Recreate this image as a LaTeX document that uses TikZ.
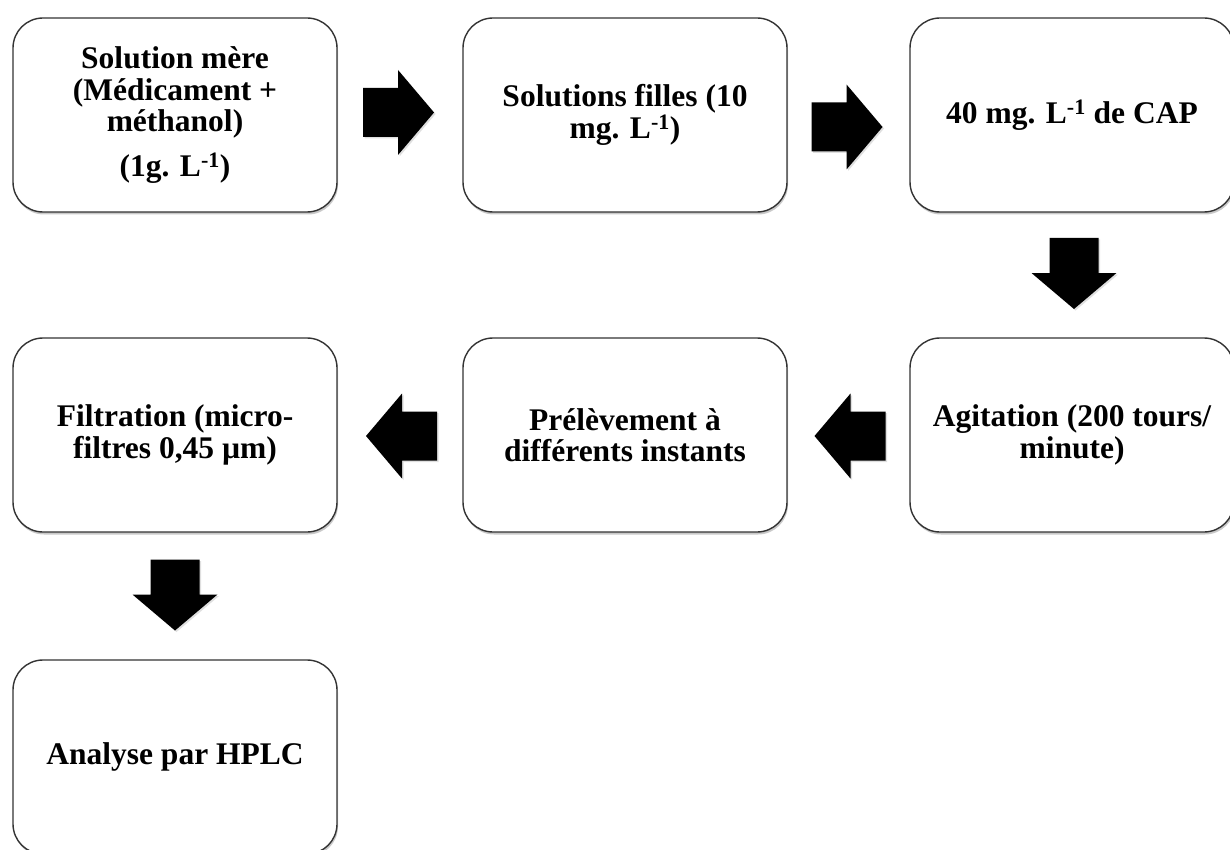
\documentclass[tikz,border=0pt]{standalone}
\usepackage{fontspec}
\setmainfont{Liberation Serif}
\usetikzlibrary{calc,shadows}
\begin{document}
\begin{tikzpicture}[x=1pt,y=-1pt,
  stepbox/.style={draw=black!80, line width=1.4pt, fill=white, rounded corners=30pt,
    minimum width=324pt, minimum height=194pt, align=center, inner sep=0pt,
    font=\fontsize{31.5}{31.5}\selectfont\bfseries,
    drop shadow={shadow xshift=1pt, shadow yshift=-2.5pt, opacity=0.35, fill=black!60}},
  blockarrow/.pic={\fill[black, drop shadow={shadow xshift=1.5pt, shadow yshift=-1.5pt, opacity=0.25}]
    (-35,-24.5) -- (0,-24.5) -- (0,-42.5) -- (36,0) -- (0,42.5) -- (0,24.5) -- (-35,24.5) -- cycle;}
]
\fill[white] (0,0) rectangle (1230,850);
\useasboundingbox (0,0) rectangle (1230,850);

\node[stepbox] (b1) at (175,115) {Solution mère\\(Médicament +\\méthanol)\\[13pt](1g. L\textsuperscript{-1})};
\node[stepbox] (b2) at (625,115) {Solutions filles (10\\mg. L\textsuperscript{-1})};
\node[stepbox] (b3) at (1072,115) {40 mg. L\textsuperscript{-1} de CAP};
\node[stepbox] (b6) at (1072,435) {Agitation (200 tours/\\minute)};
\node[stepbox] (b5) at (625,435) {Prélèvement à\\différents instants};
\node[stepbox] (b4) at (175,435) {Filtration (micro-\\filtres 0,45 µm)};
\node[stepbox] (b7) at (175,757) {Analyse par HPLC};

\coordinate (a1) at ($(b1.east)!0.5!(b2.west)+(-2,-2.5)$);
\coordinate (a2) at ($(b2.east)!0.5!(b3.west)+(-2,12)$);
\coordinate (a3) at ($(b3.south)!0.5!(b6.north)+(2,-2)$);
\coordinate (a4) at ($(b6.west)!0.5!(b5.east)+(2,1)$);
\coordinate (a5) at ($(b5.west)!0.5!(b4.east)+(2,1)$);
\coordinate (a6) at ($(b4.south)!0.5!(b7.north)+(0,-1.5)$);

\pic at (a1) {blockarrow};
\pic at (a2) {blockarrow};
\pic[rotate=-90] at (a3) {blockarrow};
\pic[rotate=180] at (a4) {blockarrow};
\pic[rotate=180] at (a5) {blockarrow};
\pic[rotate=-90] at (a6) {blockarrow};
\end{tikzpicture}
\end{document}
